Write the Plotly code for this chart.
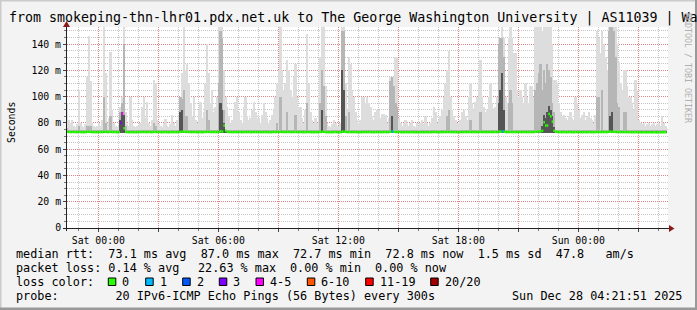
import plotly.graph_objects as go

W, H = 697, 310
ML, MR, MT, MB = 67, 29, 27, 82
PW, PH = W - ML - MR, H - MT - MB

def px(x):
    return (x - ML) / PW

def py(y):
    return (H - MB - y) / PH

# ---------------- data (hours relative to Sat 00:00, 5-minute steps, one row per clock hour)
row_start_hour = list(range(-2, 29))          # Fri 22:00 ... Sun 04:00
step_h = 1 / 12
rtt_floor = 72.6                                # fastest ping (ms)

# slowest ping of each step (top of the light smoke)
smoke_max = [
    [78, 78, 78, 78, 78, 95, 82, 80, 82, 78, 77, 79],
    [105, 80, 78, 77, 79, 115, 146, 112, 80, 78, 77, 78],
    [80, 78, 82, 155, 118, 80, 84, 134, 90, 80, 78, 77],
    [78, 92, 100, 155, 88, 79, 78, 100, 82, 78, 77, 78],
    [78, 80, 92, 100, 84, 96, 80, 78, 82, 113, 110, 82],
    [79, 78, 77, 80, 83, 78, 77, 79, 86, 80, 78, 82],
    [85, 100, 118, 155, 120, 125, 110, 95, 85, 100, 82, 80],
    [90, 96, 84, 88, 110, 140, 118, 95, 105, 88, 92, 100],
    [155, 155, 155, 120, 100, 92, 85, 80, 82, 90, 96, 100],
    [88, 82, 80, 92, 100, 85, 82, 84, 90, 96, 88, 84],
    [84, 80, 86, 95, 88, 84, 80, 82, 86, 90, 100, 110],
    [120, 155, 120, 105, 110, 128, 120, 105, 100, 115, 125, 100],
    [92, 92, 84, 80, 90, 148, 110, 88, 82, 80, 84, 80],
    [100, 130, 155, 155, 108, 80, 78, 77, 79, 82, 80, 78],
    [78, 80, 155, 155, 110, 90, 130, 125, 105, 100, 88, 82],
    [80, 82, 100, 100, 95, 100, 95, 92, 85, 82, 88, 90],
    [90, 84, 87, 87, 86, 80, 84, 115, 115, 115, 130, 130],
    [84, 80, 78, 80, 82, 79, 78, 80, 82, 78, 77, 80],
    [78, 80, 82, 79, 85, 80, 78, 80, 84, 92, 88, 80],
    [82, 85, 90, 100, 110, 120, 135, 100, 90, 85, 82, 80],
    [80, 82, 88, 90, 85, 82, 100, 110, 95, 90, 96, 100],
    [110, 128, 100, 92, 88, 90, 100, 110, 95, 90, 92, 100],
    [145, 145, 155, 145, 100, 95, 145, 155, 145, 133, 133, 105],
    [100, 105, 100, 95, 110, 100, 95, 108, 108, 100, 155, 155],
    [155, 155, 150, 155, 155, 155, 155, 155, 140, 113, 113, 110],
    [95, 88, 85, 86, 84, 82, 85, 88, 84, 82, 100, 95],
    [90, 84, 86, 88, 82, 85, 88, 84, 82, 80, 86, 150],
    [145, 133, 150, 140, 130, 120, 155, 155, 155, 155, 155, 140],
    [126, 110, 105, 120, 120, 108, 100, 100, 95, 90, 113, 105],
    [82, 80, 79, 80, 78, 79, 80, 78, 79, 80, 78, 79],
    [80, 78, 85, 80, 78, None, None, None, None, None, None, None],
]

# middle smoke (darker grey): usual level and the (row, step) places where it rises
smoke_mid_level = 74.5
smoke_mid_peaks = {
    (0, 5): 76, (1, 0): 78, (1, 5): 78, (1, 6): 78, (1, 7): 78,
    (2, 3): 100, (2, 4): 80, (2, 7): 85,
    (3, 1): 88, (3, 2): 95, (3, 3): 140, (3, 4): 78,
    (4, 9): 80, (4, 10): 78,
    (6, 1): 100, (6, 2): 98, (6, 3): 105, (6, 4): 85, (6, 5): 85,
    (7, 5): 90, (7, 6): 82,
    (8, 0): 110, (8, 1): 150, (8, 2): 145, (8, 3): 90,
    (10, 11): 80, (11, 1): 100, (11, 5): 88, (11, 10): 86, (12, 5): 95,
    (13, 1): 95, (13, 2): 120, (13, 3): 108, (13, 4): 85,
    (14, 2): 150, (14, 3): 150, (14, 4): 85, (14, 6): 88,
    (16, 7): 112, (16, 8): 115, (16, 9): 108, (16, 10): 95, (16, 11): 92,
    (19, 5): 85, (19, 6): 90, (20, 7): 82, (21, 1): 88,
    (22, 0): 140, (22, 1): 145, (22, 2): 145, (22, 3): 130, (22, 6): 95, (22, 7): 105, (22, 8): 95,
    (23, 10): 105, (23, 11): 110,
    (24, 0): 118, (24, 1): 125, (24, 2): 105, (24, 3): 120, (24, 4): 110, (24, 5): 125,
    (24, 6): 120, (24, 7): 115, (24, 8): 95, (24, 9): 88,
    (26, 11): 100,
    (27, 0): 100, (27, 2): 105, (27, 6): 150, (27, 7): 155, (27, 8): 155, (27, 9): 150,
    (27, 10): 130, (27, 11): 95,
    (28, 0): 92, (28, 3): 88, (28, 4): 88,
}

# core smoke (darkest, around the median)
smoke_core_level = 73.5
smoke_core_peaks = {
    (3, 1): 82, (3, 2): 88, (3, 3): 86,
    (6, 1): 88, (6, 2): 90,
    (8, 1): 95, (8, 2): 90, (8, 3): 80,
    (13, 2): 90, (14, 2): 120, (14, 3): 105, (16, 8): 85,
    (22, 0): 95, (22, 1): 105, (22, 2): 118, (22, 3): 90,
    (24, 2): 78, (24, 3): 86, (24, 4): 84, (24, 5): 88, (24, 6): 93, (24, 7): 90, (24, 8): 85, (24, 9): 77,
    (27, 7): 85, (27, 8): 88,
}

median_rtt = [
    [73.0, 73.0, 73.1, 73.0, 73.0, 73.2, 73.0, 73.0, 73.1, 73.0, 72.9, 73.0],
    [73.2, 73.0, 73.0, 72.9, 73.0, 73.2, 73.3, 73.1, 73.0, 73.0, 72.9, 73.0],
    [73.0, 73.0, 73.0, 73.4, 73.2, 73.0, 73.0, 73.2, 73.0, 73.0, 72.9, 72.9],
    [73.0, 80.0, 87.0, 76.0, 73.1, 73.0, 72.9, 73.0, 73.0, 72.9, 72.9, 73.0],
    [73.0, 73.0, 73.1, 73.1, 73.0, 73.0, 73.0, 72.9, 73.0, 73.2, 73.1, 73.0],
    [73.0, 72.9, 72.9, 73.0, 73.0, 72.9, 72.9, 73.0, 73.0, 73.0, 72.9, 73.0],
    [73.0, 73.2, 73.3, 73.2, 73.1, 73.1, 73.0, 73.0, 73.0, 73.0, 73.0, 72.9],
    [73.0, 73.0, 72.9, 73.0, 73.1, 73.2, 73.1, 73.0, 73.1, 73.0, 73.0, 73.0],
    [73.2, 73.6, 73.4, 78.0, 74.0, 73.1, 73.0, 73.0, 72.9, 73.0, 73.0, 73.0],
    [73.0, 73.0, 72.9, 73.0, 73.0, 73.0, 73.0, 72.9, 73.0, 73.0, 73.0, 73.0],
    [73.0, 72.9, 73.0, 73.0, 73.0, 73.0, 72.9, 72.9, 73.0, 73.0, 73.0, 73.1],
    [73.1, 73.2, 73.1, 73.0, 73.0, 73.1, 73.1, 73.0, 73.0, 73.0, 73.1, 73.0],
    [73.0, 73.0, 73.0, 72.9, 73.0, 73.1, 73.0, 73.0, 72.9, 72.9, 73.0, 72.9],
    [73.0, 73.1, 73.2, 73.2, 73.0, 72.9, 72.9, 72.9, 72.9, 73.0, 73.0, 72.9],
    [72.9, 72.9, 73.4, 73.3, 73.1, 73.0, 73.0, 73.0, 73.0, 73.0, 73.0, 72.9],
    [72.9, 72.9, 73.0, 73.0, 73.0, 73.0, 73.0, 73.0, 72.9, 72.9, 73.0, 73.0],
    [73.0, 72.9, 73.0, 73.0, 73.0, 72.9, 73.0, 73.3, 73.4, 73.2, 73.1, 73.0],
    [73.0, 72.9, 72.9, 72.9, 73.0, 72.9, 72.9, 72.9, 73.0, 72.9, 72.8, 72.9],
    [72.9, 72.9, 73.0, 72.9, 73.0, 72.9, 72.9, 72.9, 73.0, 73.0, 73.0, 72.9],
    [72.9, 73.0, 73.0, 73.0, 73.0, 73.1, 73.1, 73.0, 73.0, 73.0, 72.9, 72.9],
    [72.9, 73.0, 73.0, 73.0, 73.0, 73.0, 73.0, 73.0, 73.0, 73.0, 73.0, 73.0],
    [73.0, 73.1, 73.0, 73.0, 73.0, 73.0, 73.0, 73.0, 73.0, 73.0, 73.0, 73.0],
    [73.4, 73.3, 73.5, 73.2, 73.0, 73.0, 73.1, 73.1, 73.0, 73.0, 73.0, 73.0],
    [73.0, 73.0, 73.0, 73.0, 73.0, 73.0, 73.0, 73.0, 73.0, 73.0, 73.2, 73.3],
    [73.5, 73.6, 74.0, 80.5, 78.0, 78.0, 86.7, 85.0, 81.0, 74.0, 73.2, 73.1],
    [73.0, 73.0, 72.9, 73.0, 72.9, 72.9, 73.0, 73.0, 72.9, 72.9, 73.0, 73.0],
    [73.0, 72.9, 72.9, 73.0, 72.9, 72.9, 73.0, 72.9, 72.9, 72.9, 73.0, 73.1],
    [73.1, 73.0, 73.1, 73.1, 73.0, 73.0, 73.3, 73.3, 73.2, 73.2, 73.1, 73.0],
    [73.0, 73.0, 73.0, 73.0, 73.0, 73.0, 72.9, 72.9, 72.9, 72.9, 73.0, 72.9],
    [72.8, 72.8, 72.8, 72.8, 72.8, 72.8, 72.8, 72.8, 72.8, 72.8, 72.8, 72.8],
    [72.8, 72.8, 72.9, 72.8, 72.8, None, None, None, None, None, None, None],
]

# lost pings (out of 20) per step, only the non-zero steps
loss_events = {(3, 1): 3, (3, 2): 4.5, (16, 8): 1, (22, 2): 1}

loss_classes = ["0", "1", "2", "3", "4-5", "6-10", "11-19", "20/20"]
loss_colors = ["#26ff00", "#00b8ff", "#0059ff", "#7e00ff", "#ff00ff", "#ff5500", "#ff0000", "#a10000"]
loss_limits = [0, 1, 2, 3, 5, 10, 19, 20]

title = "from smokeping-thn-lhr01.pdx.net.uk to The George Washington University | AS11039 | Wa"
rtt_row = "median rtt:  73.1 ms avg  87.0 ms max  72.7 ms min  72.8 ms now  1.5 ms sd  47.8   am/s"
loss_row_items = ["packet loss: 0.14 % avg", "22.63 % max", "0.00 % min", "0.00 % now"]
probe_text = "probe:        20 IPv6-ICMP Echo Pings (56 Bytes) every 300s"
stamp_text = "Sun Dec 28 04:21:51 2025"

x_tick_vals = [0, 3, 6, 9, 12, 15, 18, 21, 24, 27]
x_tick_text = ["Sat 00:00", "", "Sat 06:00", "", "Sat 12:00", "", "Sat 18:00", "", "Sun 00:00", ""]
y_tick_vals = [0, 20, 40, 60, 80, 100, 120, 140]
y_tick_text = ["0", "20 m", "40 m", "60 m", "80 m", "100 m", "120 m", "140 m"]

# ---------------- flatten
t_start, s_max, s_mid, s_core, med, loss = [], [], [], [], [], []
for r, h0 in enumerate(row_start_hour):
    for j in range(12):
        t_start.append(h0 + j * step_h)
        top = smoke_max[r][j]
        s_max.append(top)
        if top is None:
            s_mid.append(None)
            s_core.append(None)
        else:
            s_mid.append(smoke_mid_peaks.get((r, j), smoke_mid_level))
            s_core.append(smoke_core_peaks.get((r, j), smoke_core_level))
        med.append(median_rtt[r][j])
        loss.append(loss_events.get((r, j), 0))

fig = go.Figure()
for vals, col in [(s_max, "#dddddd"), (s_mid, "#b6b6b6"), (s_core, "#555555")]:
    xs, ys = [], []
    for t, v in zip(t_start, vals):
        if v is None:
            continue
        xs.append(t + step_h / 2)
        ys.append(v - rtt_floor)
    fig.add_trace(go.Bar(x=xs, y=ys, base=rtt_floor, width=step_h,
                         marker=dict(color=col, line=dict(width=0)), hoverinfo="skip"))

def loss_class(n):
    for k, lim in enumerate(loss_limits):
        if n <= lim:
            return k
    return len(loss_limits) - 1

for k, col in enumerate(loss_colors):
    xs, ys = [], []
    for t, m, n in zip(t_start, med, loss):
        if m is None or loss_class(n) != k:
            continue
        xs += [t, t + step_h, None]
        ys += [m, m, None]
    if xs:
        fig.add_trace(go.Scatter(x=xs, y=ys, mode="lines", line=dict(color=col, width=2.5),
                                 hoverinfo="skip"))

mono = "DejaVu Sans Mono"
grid_major = "rgba(240,90,90,0.6)"
grid_minor = "rgba(150,150,150,0.55)"

fig.update_layout(
    width=W, height=H, margin=dict(l=ML, r=MR, t=MT, b=MB),
    paper_bgcolor="#f3f3f3", plot_bgcolor="#ffffff",
    showlegend=False, barmode="overlay", bargap=0,
    font=dict(family=mono, size=9.8, color="#000000"),
    xaxis=dict(range=[(ML - 98.3) / 20, (W - MR - 98.3) / 20], tickmode="array",
               tickvals=x_tick_vals, ticktext=x_tick_text,
               showgrid=True, gridcolor=grid_major, griddash="1px,1px", gridwidth=1,
               ticks="outside", ticklen=3, tickcolor="#444", zeroline=False, showline=False,
               tickfont=dict(family=mono, size=9.8),
               minor=dict(tickmode="linear", tick0=0, dtick=1, showgrid=True,
                          gridcolor=grid_minor, griddash="1px,1px", ticks="outside",
                          ticklen=2, tickcolor="#777")),
    yaxis=dict(range=[0, 153], tickmode="array", tickvals=y_tick_vals, ticktext=y_tick_text,
               showgrid=True, gridcolor=grid_major, griddash="1px,1px", gridwidth=1,
               ticks="outside", ticklen=3, tickcolor="#444", zeroline=False, showline=False,
               tickfont=dict(family=mono, size=9.8),
               minor=dict(tickmode="linear", tick0=0, dtick=5, showgrid=True,
                          gridcolor=grid_minor, griddash="1px,1px", ticks="outside",
                          ticklen=2, tickcolor="#777")),
)

shapes = []
# axes with arrows
shapes.append(dict(type="line", xref="paper", yref="paper", x0=px(63), x1=px(670),
                   y0=py(228.5), y1=py(228.5), line=dict(color="#222", width=1)))
shapes.append(dict(type="line", xref="paper", yref="paper", x0=px(66.5), x1=px(66.5),
                   y0=py(231), y1=py(25), line=dict(color="#222", width=1)))
arrow = "#8b1a1a"
shapes.append(dict(type="path", xref="paper", yref="paper", fillcolor=arrow, line=dict(width=0),
                   path=f"M {px(669)} {py(225)} L {px(674.5)} {py(228.5)} L {px(669)} {py(232)} Z"))
shapes.append(dict(type="path", xref="paper", yref="paper", fillcolor=arrow, line=dict(width=0),
                   path=f"M {px(63)} {py(27)} L {px(66.5)} {py(21)} L {px(70)} {py(27)} Z"))
# frame shading
shapes.append(dict(type="rect", xref="paper", yref="paper", x0=px(0), x1=px(W), y0=py(0), y1=py(1.5),
                   fillcolor="#cbcbcb", line=dict(width=0)))
shapes.append(dict(type="rect", xref="paper", yref="paper", x0=px(0), x1=px(1.5), y0=py(0), y1=py(H),
                   fillcolor="#cbcbcb", line=dict(width=0)))
shapes.append(dict(type="rect", xref="paper", yref="paper", x0=px(W - 2), x1=px(W), y0=py(0), y1=py(H),
                   fillcolor="#999999", line=dict(width=0)))
shapes.append(dict(type="rect", xref="paper", yref="paper", x0=px(0), x1=px(W), y0=py(H - 2.5), y1=py(H),
                   fillcolor="#999999", line=dict(width=0)))

ann = []
def text(x, y, s, size, color="#000", anchor="left", angle=0):
    ann.append(dict(x=px(x), y=py(y), xref="paper", yref="paper", text=s.replace(" ", "\u00a0"),
                    showarrow=False, xanchor=anchor, yanchor="middle", textangle=angle,
                    borderpad=0, borderwidth=0,
                    font=dict(family=mono, size=size, color=color)))

text(9, 18.5, title, 13.3)
text(688, 68, "RRDTOOL / TOBI OETIKER", 8.3, color="#b0b0b0", anchor="center", angle=90)
text(11, 123, "Seconds", 9.8, anchor="center", angle=-90)
text(16, 254.3, rtt_row, 11.8)
for lx, item in zip([16, 198, 290, 375], loss_row_items):
    text(lx, 268.3, item, 11.8)
text(16, 282, "loss color:", 11.8)
box_x = [108.3, 145.7, 182.7, 219.3, 256, 307.3, 365.7, 430.7]
for bx, lab, col in zip(box_x, loss_classes, loss_colors):
    shapes.append(dict(type="rect", xref="paper", yref="paper", x0=px(bx), x1=px(bx + 7.5),
                       y0=py(285.5), y1=py(278), fillcolor=col, line=dict(color="#000", width=1)))
    text(bx + 14, 282, lab, 11.8)
text(16, 296, probe_text, 11.8)
text(512, 296, stamp_text, 11.8)

fig.update_layout(shapes=shapes, annotations=ann)
fig.write_html("out.html")
